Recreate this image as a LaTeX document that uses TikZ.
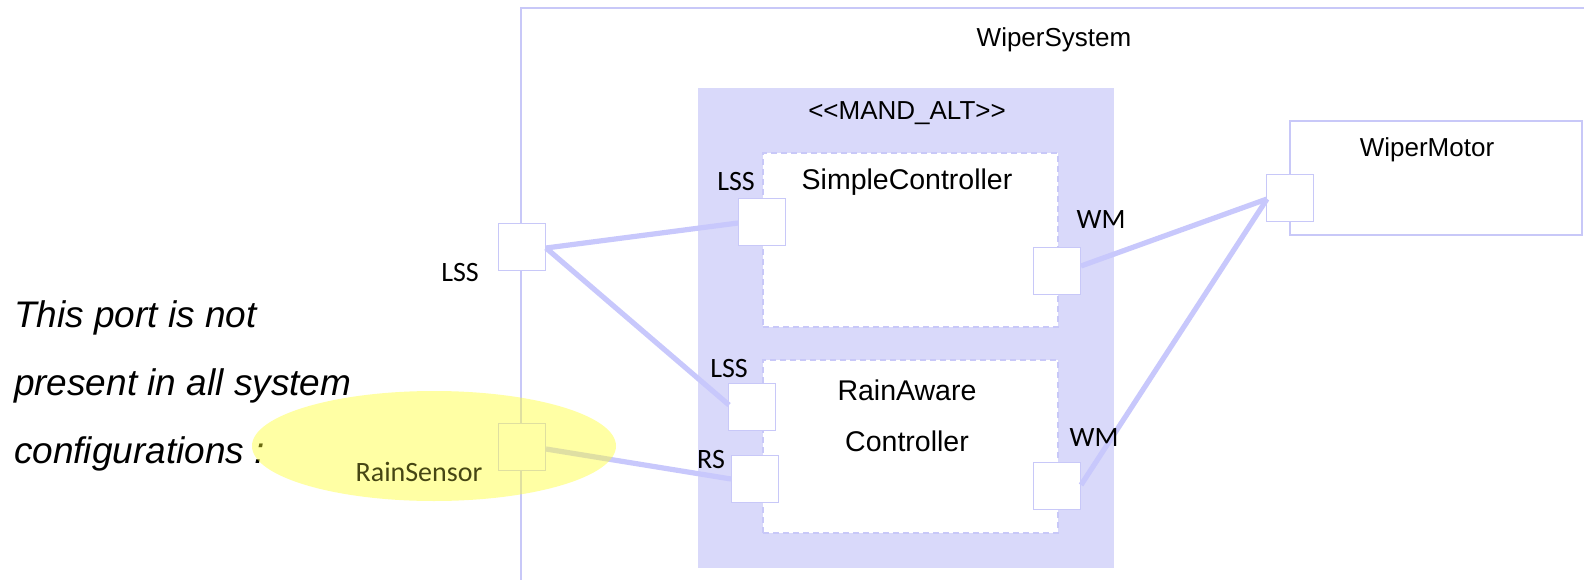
\documentclass[tikz,border=0pt]{standalone}
\usepackage{fontspec}
\usetikzlibrary{shapes.geometric}
\setmainfont{Liberation Sans}
\newfontfamily\portfont{Carlito}
\begin{document}
\begin{tikzpicture}[x=1pt,y=-1pt,
  every node/.style={inner sep=0pt, outer sep=0pt},
  portbox/.style={draw=lav, fill=white, line width=1.3pt, minimum width=47pt, minimum height=47pt},
  partbox/.style={draw=lav, fill=white, line width=1.6pt, dash pattern=on 6pt off 4pt, anchor=north west},
  link/.style={draw=lavlink, line width=5.2pt},
  title/.style={font=\fontsize{26}{30}\selectfont},
  ctitle/.style={font=\fontsize{28.5}{33}\selectfont},
  plabel/.style={font=\portfont\fontsize{28}{32}\selectfont},
  note/.style={font=\fontsize{37}{44}\selectfont\itshape, anchor=base west}
]
\definecolor{lav}{RGB}{200,200,248}
\definecolor{lavlink}{RGB}{200,200,252}
\definecolor{altfill}{RGB}{217,217,250}
\definecolor{hilite}{RGB}{255,255,40}
\definecolor{olivetext}{RGB}{70,70,20}

\useasboundingbox (0,0) rectangle (1584,580);
\fill[white] (0,0) rectangle (1584,580);

% WiperSystem frame (left and top edges)
\draw[lav, line width=1.5pt] (521,580) -- (521,8) -- (1584,8);
\node[title] (sysname) at (1054,40) {WiperSystem};

% mandatory alternative region
\node[fill=altfill, anchor=north west, minimum width=416pt, minimum height=480pt] (alt) at (698,88) {};
\node[title] (alttitle) at (907,113) {{<}{<}MAND\_ALT{>}{>}};

% alternative controllers
\node[partbox, minimum width=295pt, minimum height=174pt] (simple) at (763,153) {};
\node[ctitle] (simplename) at (907,182) {SimpleController};
\node[partbox, minimum width=295pt, minimum height=173pt] (rain) at (763,360) {};
\node[ctitle] (rainname1) at (907,390) {RainAware};
\node[ctitle] (rainname2) at (907,441) {Controller};

% wiper motor
\node[draw=lav, fill=white, line width=1.3pt, anchor=north west, minimum width=292pt, minimum height=114pt] (motor) at (1290,121) {};
\node[title] (motorname) at (1427,150) {WiperMotor};

% connector end points on the ports
\coordinate (c1) at (546,248);
\coordinate (c2) at (738,223);
\coordinate (c3) at (729,405);
\coordinate (c4) at (546,449);
\coordinate (c5) at (731,479);
\coordinate (c6) at (1081,266);
\coordinate (c7) at (1267,199);
\coordinate (c8) at (1081,485);

% ports
\node[portbox] (sysLSS) at (522,247) {};
\node[portbox] (sysRS) at (522,447) {};
\node[portbox] (scLSS) at (762,222) {};
\node[portbox] (scWM) at (1057,271) {};
\node[portbox] (raLSS) at (752,407) {};
\node[portbox] (raRS) at (755,479) {};
\node[portbox] (raWM) at (1057,486) {};
\node[portbox] (motorWM) at (1290,198) {};

% connectors
\draw[link] (c1) -- (c2);
\draw[link] (c1) -- (c3);
\draw[link] (c4) -- (c5);
\draw[link] (c6) -- (c7);
\draw[link] (c8) -- (c7);

% port labels
\node[plabel] (lblSys) at (460,273) {LSS};
\node[plabel] (lblScL) at (736,182) {LSS};
\node[plabel] (lblScW) at (1101,220) {WM};
\node[plabel] (lblRaL) at (729,369) {LSS};
\node[plabel] (lblRaR) at (711,460) {RS};
\node[plabel] (lblRaW) at (1094,438) {WM};

% note
\node[note] (note1) at (14,327) {This port is not};
\node[note] (note2) at (14,395) {present in all system};
\node[note] (note3) at (14,463) {configurations :};

% highlight over the optional port
\node[ellipse, fill=hilite, fill opacity=0.42, minimum width=364pt, minimum height=110pt] (halo) at (434,446) {};
\node[plabel, text=olivetext] (lblSensor) at (419,472) {RainSensor};
\end{tikzpicture}
\end{document}
